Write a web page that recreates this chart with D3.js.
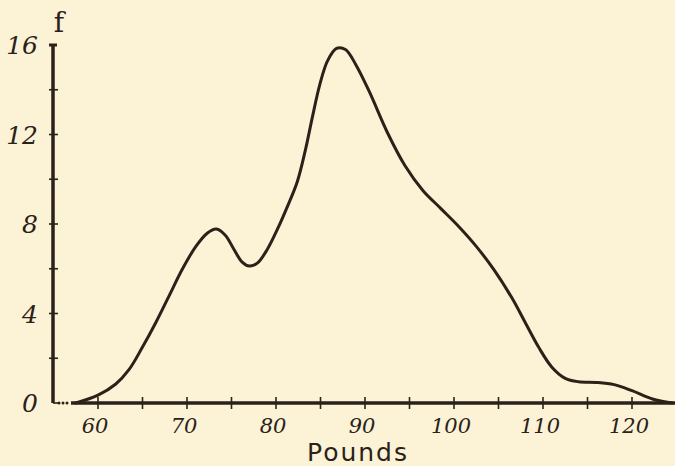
<!DOCTYPE html>
<html><head><meta charset="utf-8">
<script src="https://cdn.jsdelivr.net/npm/d3@7"></script>
<style>
html,body{margin:0;padding:0;background:#fcf2d6;}
svg{display:block;}
text{fill:#2a2219;}
</style></head>
<body>
<svg id="c" width="675" height="466"></svg>
<script>
// Data (weight in pounds vs frequency f)
const pounds = [57.5, 60.0, 62.0, 63.5, 65.0, 66.5, 68.0, 69.5, 71.0, 72.3, 73.3, 74.3, 75.3, 76.2, 77.0, 77.9, 79.0, 80.2, 81.3, 82.4, 83.3, 84.1, 84.9, 85.8, 86.8, 87.8, 89.0, 90.5, 92.5, 94.5, 96.5, 98.5, 100.5, 102.5, 104.5, 106.5, 108.0, 109.5, 111.0, 112.5, 114.0, 116.0, 118.0, 120.0, 122.3, 124.5];
const freq   = [0.0, 0.35, 0.85, 1.5, 2.5, 3.6, 4.8, 6.0, 7.0, 7.6, 7.78, 7.5, 6.85, 6.3, 6.12, 6.25, 6.85, 7.8, 8.8, 9.9, 11.3, 12.8, 14.2, 15.3, 15.85, 15.8, 15.1, 13.9, 12.1, 10.6, 9.5, 8.7, 7.9, 7.0, 5.95, 4.7, 3.6, 2.5, 1.6, 1.1, 0.95, 0.92, 0.82, 0.55, 0.18, 0.0];
const xTickValues = [60, 65, 70, 75, 80, 85, 90, 95, 100, 105, 110, 115, 120];
const xTickLabels = ["60", "70", "80", "90", "100", "110", "120"];
const xLabelValues = [60, 70, 80, 90, 100, 110, 120];
const yTickValues = [2, 4, 6, 8, 10, 12, 14];
const yLabelValues = [0, 4, 8, 12, 16];
const yTickLabels = ["0", "4", "8", "12", "16"];

const svg = d3.select("#c");
const ink = "#2a2219";
const x = d3.scaleLinear().domain([60, 120]).range([98, 632]);
const y = d3.scaleLinear().domain([0, 16]).range([403, 45]);
const axisX = 53;

// y axis
svg.append("line").attr("x1", axisX).attr("x2", axisX).attr("y1", y(16)).attr("y2", y(0))
  .attr("stroke", ink).attr("stroke-width", 3.5);
svg.append("line").attr("x1", axisX - 4).attr("x2", axisX + 4).attr("y1", y(16)).attr("y2", y(16))
  .attr("stroke", ink).attr("stroke-width", 3);
svg.selectAll(".yt").data(yTickValues).enter().append("line")
  .attr("x1", axisX - 4).attr("x2", axisX + 5).attr("y1", d => y(d)).attr("y2", d => y(d))
  .attr("stroke", ink).attr("stroke-width", 1.6);
svg.append("line").attr("x1", axisX).attr("x2", axisX + 5).attr("y1", y(0)).attr("y2", y(0))
  .attr("stroke", ink).attr("stroke-width", 1.6);
svg.selectAll(".yl").data(yLabelValues).enter().append("text")
  .attr("x", 38).attr("y", d => y(d) + 9).attr("text-anchor", "end")
  .attr("font-family", "'DejaVu Serif', serif").attr("font-style", "italic")
  .attr("font-size", 25).text((d, i) => yTickLabels[i]);

// f label
svg.append("text").attr("x", axisX + 6).attr("y", 32).attr("text-anchor", "middle")
  .attr("font-family", "'DejaVu Serif', serif").attr("font-size", 28).text("f");

// x axis: dotted break then solid
svg.selectAll(".dot").data([59, 63, 67]).enter().append("circle")
  .attr("cx", d => d).attr("cy", y(0)).attr("r", 1.5).attr("fill", ink);
svg.append("line").attr("x1", 71).attr("x2", 675).attr("y1", y(0)).attr("y2", y(0))
  .attr("stroke", ink).attr("stroke-width", 3.5);
svg.selectAll(".xt").data(xTickValues).enter().append("line")
  .attr("x1", d => x(d)).attr("x2", d => x(d)).attr("y1", y(0) - 6).attr("y2", y(0) + 6)
  .attr("stroke", ink).attr("stroke-width", 1.6);
svg.selectAll(".xl").data(xLabelValues).enter().append("text")
  .attr("x", d => x(d) - 3).attr("y", 433).attr("text-anchor", "middle")
  .attr("font-family", "'DejaVu Serif', serif").attr("font-style", "italic")
  .attr("font-size", 21).text((d, i) => xTickLabels[i]);

svg.append("text").attr("x", 358).attr("y", 461).attr("text-anchor", "middle")
  .attr("font-family", "'DejaVu Sans', sans-serif").attr("font-size", 25)
  .attr("letter-spacing", 2).text("Pounds");

// curve
const pts = pounds.map((p, i) => [p, freq[i]]);
const line = d3.line().x(d => x(d[0])).y(d => y(d[1])).curve(d3.curveCatmullRom.alpha(0.5));
svg.append("path").attr("d", line(pts)).attr("fill", "none").attr("stroke", ink)
  .attr("stroke-width", 3).attr("stroke-linejoin", "round").attr("stroke-linecap", "round");
</script>
</body></html>
